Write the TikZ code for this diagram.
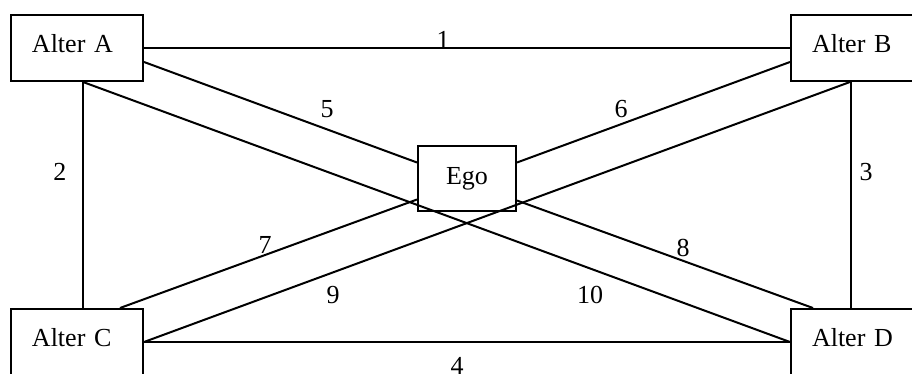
\documentclass[tikz,border=0pt]{standalone}
\usepackage{fontspec}
\setmainfont{Liberation Serif}
\usetikzlibrary{calc}
\begin{document}
\begin{tikzpicture}[x=0.5pt,y=-0.5pt,
  every node/.style={font=\fontsize{13}{15}\selectfont},
  altbox/.style={draw,line width=1pt,rectangle,text width=45pt,inner xsep=10.5pt,inner ysep=0pt,align=left,minimum height=33pt,text depth=5pt},
  egobox/.style={draw,line width=1pt,rectangle,minimum width=49pt,minimum height=32.5pt,inner sep=0pt},
  edgeline/.style={line width=1pt},
  lab/.style={inner sep=0pt}]
\useasboundingbox (0,0) rectangle (912,374);
\clip (0,0) rectangle (912,374);
\node[altbox] (A) at (77,48) {Alter A};
\node[altbox] (B) at (857,48) {Alter B};
\node[altbox] (C) at (77,342) {Alter C};
\node[altbox] (D) at (857,342) {Alter D};
\node[egobox] (E) at (467,178.5) {Ego};
% connectors
\draw[edgeline] (A.east) -- (B.west);
\draw[edgeline] ($(A.south)+(6,0)$) -- ($(C.north)+(6,0)$);
\draw[edgeline] ($(B.south)+(-6,0)$) -- ($(D.north)+(-6,0)$);
\draw[edgeline] (C.east) -- (D.west);
\draw[edgeline] ($(A.east)+(0,14)$) -- ($(E.west)+(0,-16)$);
\draw[edgeline] ($(E.east)+(0,-16)$) -- ($(B.west)+(0,14)$);
\draw[edgeline] ($(C.north)+(43,0)$) -- ($(E.west)+(0,21)$);
\draw[edgeline] ($(E.east)+(0,22)$) -- ($(D.north)+(-44,0)$);
\draw[edgeline] (C.east) -- ($(B.south)+(-7,0)$);
\draw[edgeline] ($(A.south)+(6,0)$) -- (D.west);
% labels
\node[lab] (l1) at (443,40) {1};
\node[lab] (l2) at (60,172) {2};
\node[lab] (l3) at (866,172) {3};
\node[lab] (l4) at (457,366) {4};
\node[lab] (l5) at (327,109) {5};
\node[lab] (l6) at (621,109) {6};
\node[lab] (l7) at (265,245) {7};
\node[lab] (l8) at (683,248) {8};
\node[lab] (l9) at (333,295) {9};
\node[lab] (l10) at (590,295) {10};
\end{tikzpicture}
\end{document}
